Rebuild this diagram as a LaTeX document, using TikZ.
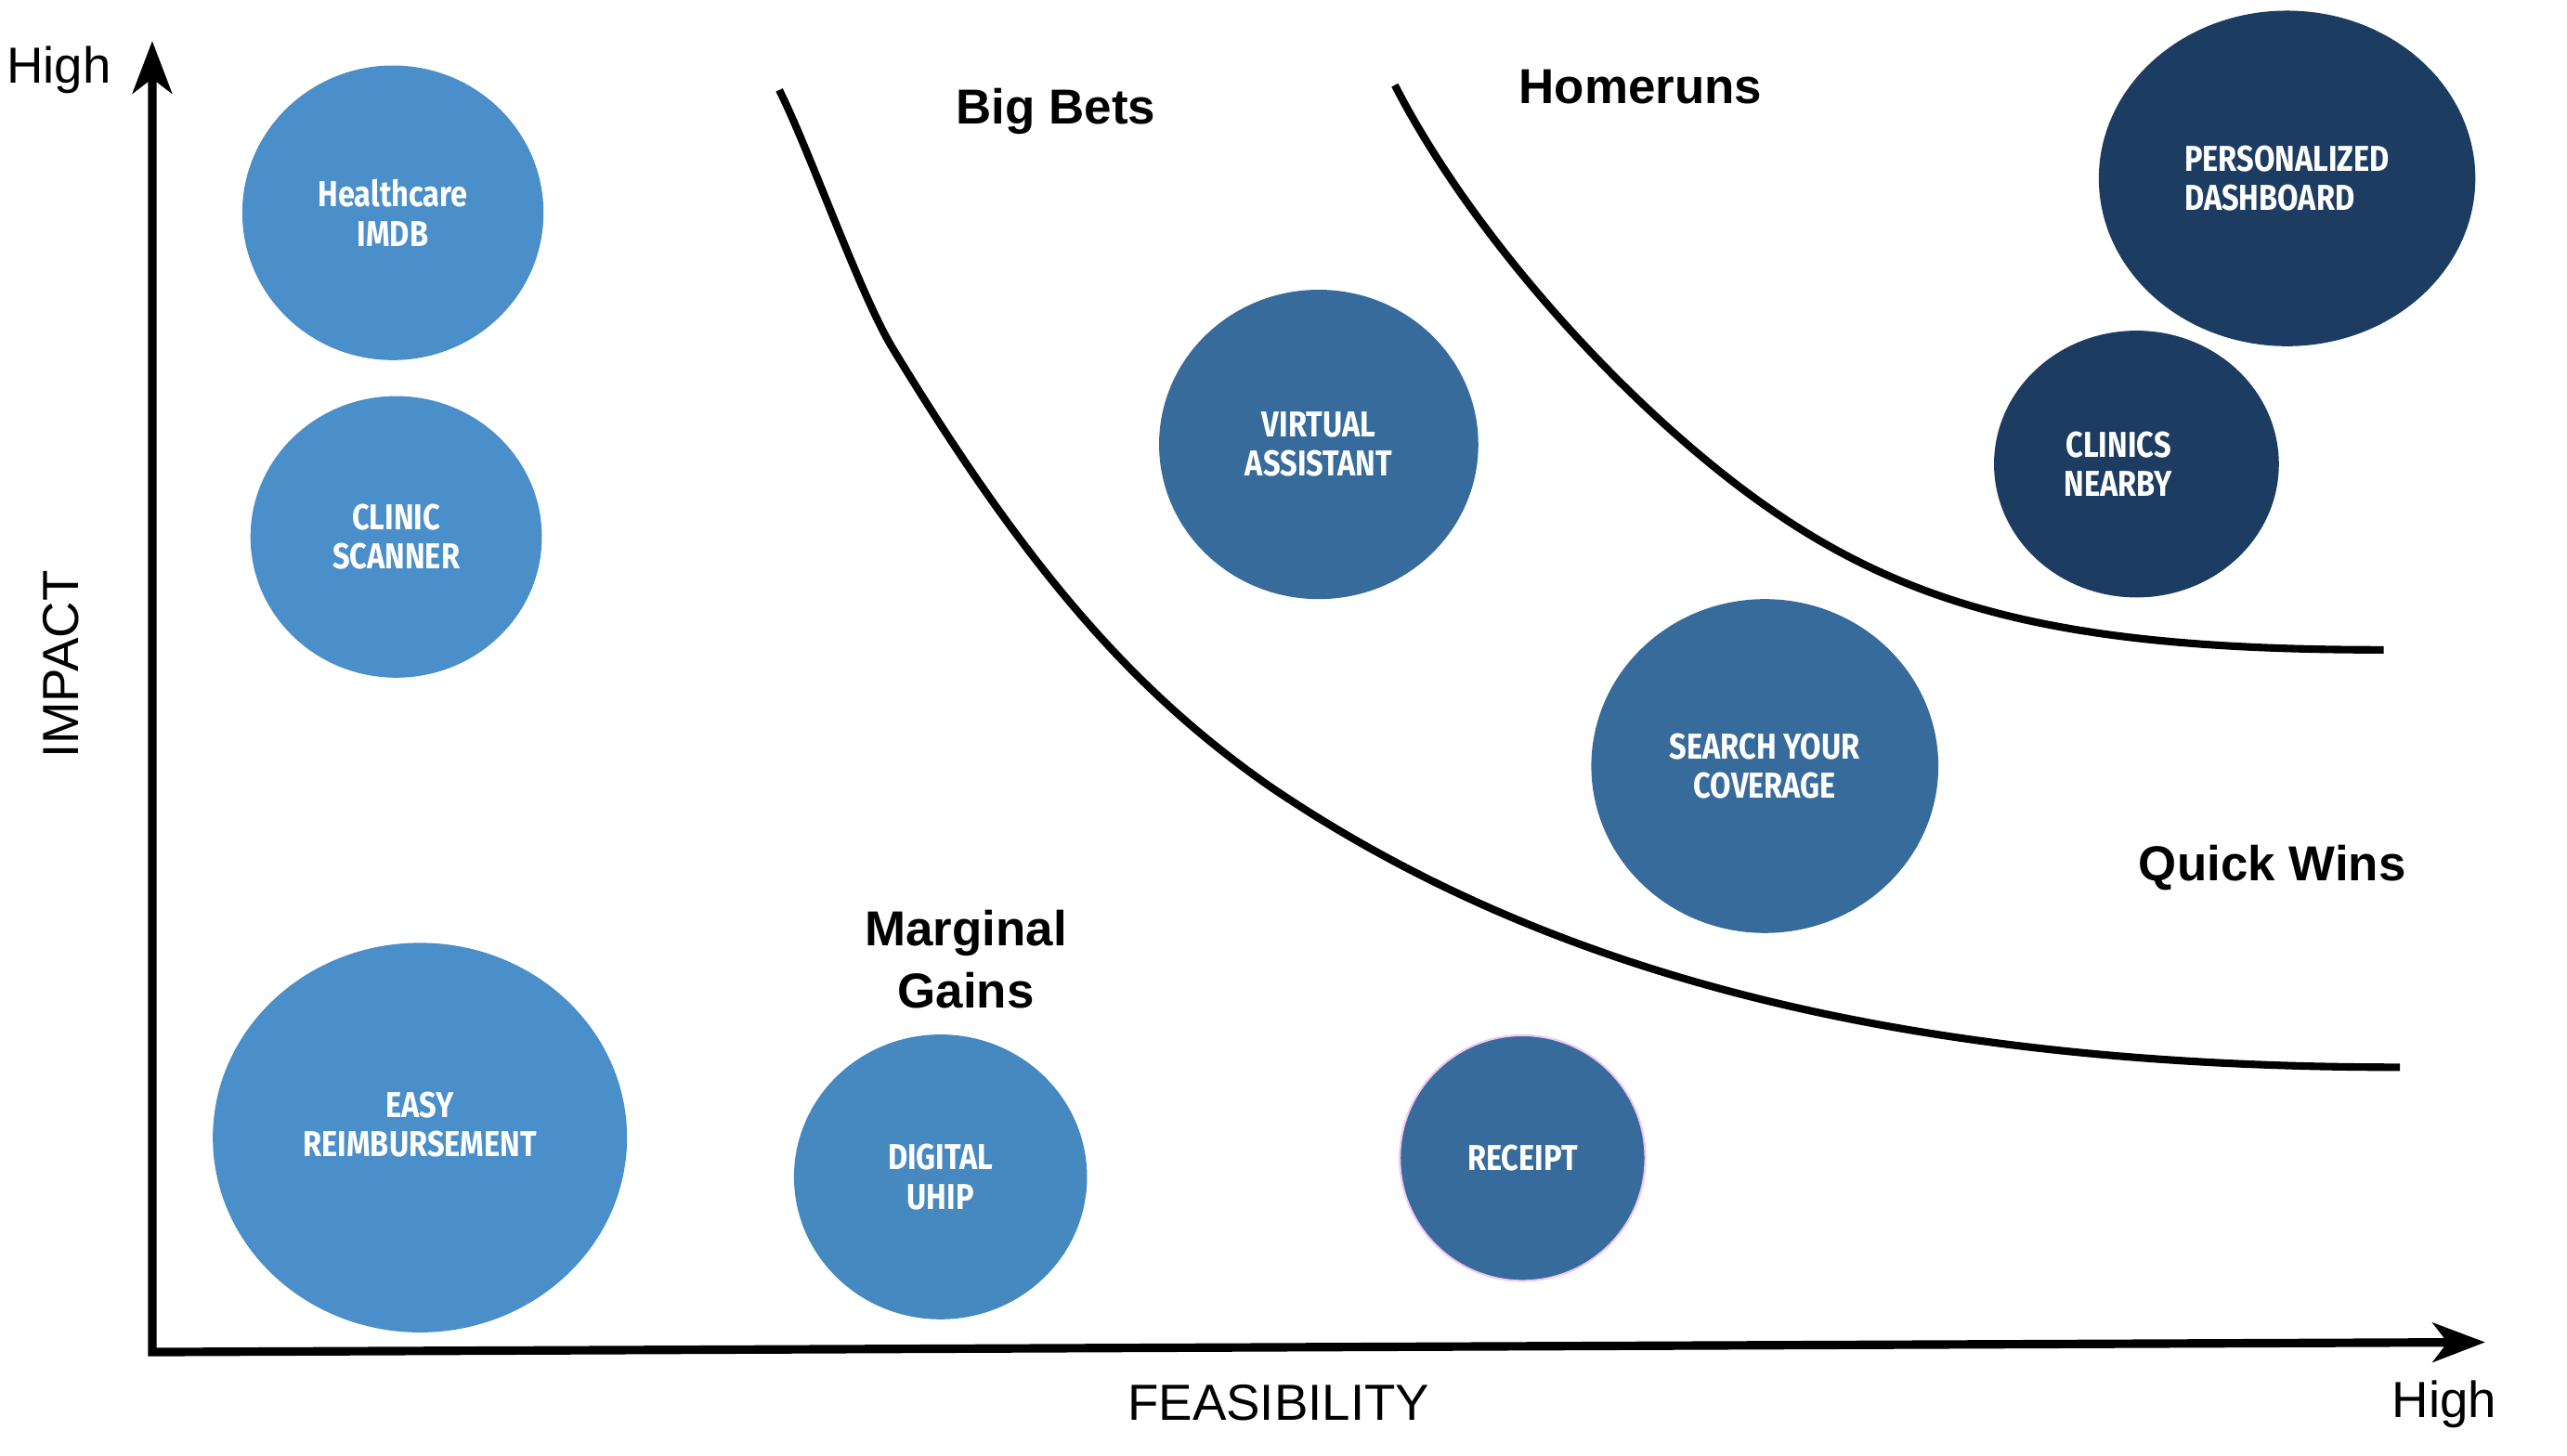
\documentclass[tikz,border=0pt]{standalone}
\usepackage{fontspec}
\setmainfont{Liberation Sans}
\newfontfamily\bubblefont{Fira Sans}[FakeStretch=0.84]
\usepackage{tikz}
\usetikzlibrary{arrows.meta,shapes.geometric}
\definecolor{lightblue}{HTML}{4A8ECA}
\definecolor{uhipblue}{HTML}{4688C0}
\definecolor{midblue}{HTML}{366B9C}
\definecolor{navyblue}{HTML}{1C3D61}
\definecolor{receiptpink}{HTML}{F2C6F2}

\begin{document}
\begin{tikzpicture}[
  x=0.5pt, y=-0.5pt,
  bubble/.style={ellipse, inner sep=0pt, text=white, align=center, font=\bubblefont\bfseries\fontsize{11}{12}\selectfont},
  bubblesize/.style 2 args={minimum width=#1pt, minimum height=#2pt},
  lightbubble/.style={bubble, fill=lightblue},
  midbubble/.style={bubble, fill=midblue},
  navybubble/.style={bubble, fill=navyblue},
  quadrant/.style={font=\bfseries\fontsize{15}{19}\selectfont, align=center},
  axislabel/.style={font=\fontsize{15.5}{18}\selectfont},
  axis/.style={{Stealth[length=16pt,width=12pt,inset=4.5pt]}-{Stealth[length=16pt,width=12pt,inset=4.5pt]}, line width=2.6pt},
  boundary/.style={line width=2.3pt}
]
\useasboundingbox (0,0) rectangle (1568,889.5);

\coordinate (ytip) at (93,25);
\coordinate (origin) at (93,826);
\coordinate (xtip) at (1518,820);
\draw[axis] (ytip) -- (origin) -- (xtip);

\draw[boundary] (476,55) .. controls (495,93) and (526,182) .. (546,214)
  .. controls (628.5,349.6) and (693,422.5) .. (775,480)
  .. controls (947,597) and (1168,652) .. (1466,652);
\draw[boundary] (852,52) .. controls (895,136) and (979.1,233.7) .. (1062,297)
  .. controls (1160.7,372) and (1259.2,397) .. (1456,397);

\node[lightbubble, bubblesize={92}{90}] (imdb) at (240,130) {Healthcare\\IMDB};
\node[lightbubble, bubblesize={89}{86}] (scanner) at (242,328) {CLINIC\\SCANNER};
\node[lightbubble, bubblesize={126.5}{119}] (reimburse) at (256.5,695) {EASY\\REIMBURSEMENT\\[-4pt]\mbox{}};
\node[lightbubble, fill=uhipblue, bubblesize={89.5}{87}] (uhip) at (574.5,719) {DIGITAL\\UHIP};
\node[midbubble, bubblesize={97.5}{94.5}] (assistant) at (805.5,271.5) {VIRTUAL\\ASSISTANT};
\node[midbubble, bubblesize={106}{102}] (coverage) at (1078,468) {SEARCH YOUR\\COVERAGE};
\node[midbubble, draw=receiptpink, line width=0.6pt, bubblesize={75}{75}] (receipt) at (930,707.5) {RECEIPT};
\node[navybubble, align=left, bubblesize={115}{102.5}] (dashboard) at (1397,109) {PERSONALIZED\\DASHBOARD};
\node[navybubble, bubblesize={87}{81.5}] (nearby) at (1305,283.5) {CLINICS\hspace*{11pt}\\NEARBY\hspace*{11pt}};

\node[quadrant] (bigbets) at (645,68) {Big Bets};
\node[quadrant] (homeruns) at (1002,53) {Homeruns};
\node[quadrant] (quickwins) at (1388,530) {Quick Wins};
\node[quadrant] (marginal) at (590,586) {Marginal\\Gains};

\node[axislabel] (yhigh) at (36,43) {High};
\node[axislabel, rotate=90] (impact) at (37,406) {IMPACT};
\node[axislabel] (feasibility) at (781,857) {FEASIBILITY};
\node[axislabel] (xhigh) at (1493,858) {High};
\end{tikzpicture}
\end{document}
